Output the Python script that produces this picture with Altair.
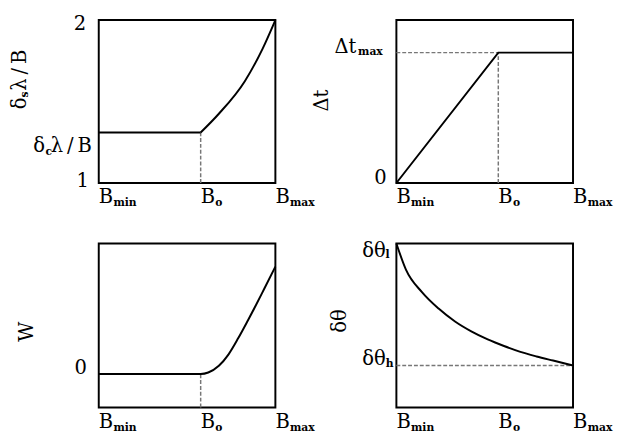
import altair as alt
import pandas as pd

FONT = "DejaVu Serif"

# ---------------- data ----------------
B_TICKS = [0.0, 0.577, 1.0]
B_SUBS = ["min", "o", "max"]
B_O = 0.577

# Panel 1 : delta_s lambda / B  (y from 1 to 2)
P1_FLAT_X = [0.0, 0.577]
P1_FLAT_Y = [1.31, 1.31]
P1_CURVE_X = [0.577, 0.680, 0.827, 0.928, 1.0]
P1_CURVE_Y = [1.31, 1.425, 1.625, 1.825, 2.0]
P1_YTICKS = [1.0, 1.31, 2.0]

# Panel 2 : Delta t
P2_X = [0.0, 0.577, 1.0]
P2_Y = [0.0, 0.8, 0.8]
P2_TMAX = 0.8

# Panel 3 : W
P3_X = [0.0, 0.577, 0.62, 0.68, 0.735, 0.79, 0.845, 0.891, 0.937, 1.0]
P3_Y = [0.204, 0.204, 0.213, 0.254, 0.324, 0.423, 0.532, 0.626, 0.724, 0.859]
P3_ZERO = 0.204

# Panel 4 : delta theta
P4_X = [0.0, 0.054, 0.146, 0.239, 0.332, 0.424, 0.517, 0.609, 0.702, 0.794, 0.887, 1.0]
P4_Y = [1.0, 0.841, 0.702, 0.603, 0.524, 0.464, 0.415, 0.375, 0.339, 0.311, 0.286, 0.256]
P4_LOW = 0.256

# ---------------- helpers ----------------
XS = alt.Scale(domain=[0, 1], nice=False, zero=False)
DASH_COLOR = "#777777"
THIN = "\u2009"


def enc_xy(ys, xfield="x", yfield="y"):
    return dict(x=alt.X(f"{xfield}:Q", scale=XS, axis=None),
                y=alt.Y(f"{yfield}:Q", scale=ys, axis=None))


def line(xv, yv, ys, interp="linear"):
    df = pd.DataFrame({"x": xv, "y": yv})
    return alt.Chart(df).mark_line(color="black", strokeWidth=2, interpolate=interp).encode(**enc_xy(ys))


def hdash(y, x1, x2, ys):
    df = pd.DataFrame({"x": [x1], "x2": [x2], "y": [y]})
    return alt.Chart(df).mark_rule(color=DASH_COLOR, strokeWidth=1.5, strokeDash=[4, 2]).encode(
        x=alt.X("x:Q", scale=XS, axis=None), x2="x2:Q", y=alt.Y("y:Q", scale=ys, axis=None))


def vdash(x, y1, y2, ys):
    df = pd.DataFrame({"x": [x], "y": [y1], "y2": [y2]})
    return alt.Chart(df).mark_rule(color=DASH_COLOR, strokeWidth=1.5, strokeDash=[4, 2]).encode(
        x=alt.X("x:Q", scale=XS, axis=None), y=alt.Y("y:Q", scale=ys, axis=None), y2="y2:Q")


def txt(x, y, s, ys, size=20, bold=False, align="left", dx=0, dy=0, angle=0):
    df = pd.DataFrame({"x": [x], "y": [y], "t": [s]})
    return alt.Chart(df).mark_text(
        font=FONT, fontSize=size, fontWeight="bold" if bold else "normal",
        align=align, baseline="alphabetic", dx=dx, dy=dy, angle=angle, color="black"
    ).encode(text="t:N", **enc_xy(ys))


def sub(x, y, s, ys, align="left", dx=0, dy=0, angle=0):
    return txt(x, y, s, ys, size=11, bold=True, align=align, dx=dx, dy=dy, angle=angle)


def xlabels(ymin, ys):
    layers = []
    for xv, s in zip(B_TICKS, B_SUBS):
        layers.append(txt(xv, ymin, "B", ys, dx=0, dy=21))
        layers.append(sub(xv, ymin, s, ys, dx=15, dy=24))
    return layers


LAM_B = "λ" + THIN + "/" + THIN + "B"

# ---------------- panel 1 ----------------
ys1 = alt.Scale(domain=[1, 2], nice=False, zero=False)
p1 = alt.layer(
    vdash(B_O, 1.0, P1_FLAT_Y[0], ys1),
    line(P1_FLAT_X, P1_FLAT_Y, ys1),
    line(P1_CURVE_X, P1_CURVE_Y, ys1, "monotone"),
    txt(0, P1_YTICKS[2], "2", ys1, align="right", dx=-13, dy=10),
    txt(0, P1_YTICKS[0], "1", ys1, align="right", dx=-10, dy=4),
    txt(0, P1_YTICKS[1], LAM_B, ys1, align="right", dx=-7, dy=20),
    sub(0, P1_YTICKS[1], "c", ys1, align="right", dx=-48, dy=23),
    txt(0, P1_YTICKS[1], "δ", ys1, align="right", dx=-55, dy=20),
    # rotated title  δ_s λ/B
    txt(0, 1.5, "δ", ys1, angle=270, dx=-8, dy=-75),
    sub(0, 1.5, "s", ys1, angle=270, dx=4, dy=-72),
    txt(0, 1.5, LAM_B, ys1, angle=270, dx=11, dy=-75),
    *xlabels(1.0, ys1),
).properties(width=181, height=167)

# ---------------- panel 2 ----------------
ys2 = alt.Scale(domain=[0, 1], nice=False, zero=False)
p2 = alt.layer(
    hdash(P2_TMAX, 0.0, B_O, ys2),
    vdash(B_O, 0.0, P2_TMAX, ys2),
    line(P2_X, P2_Y, ys2),
    txt(0, 0.0, "0", ys2, align="right", dx=-10, dy=1),
    sub(0, P2_TMAX, "max", ys2, align="right", dx=-14, dy=2),
    txt(0, P2_TMAX, "Δt", ys2, align="right", dx=-41, dy=0),
    txt(0, 0.5, "Δt", ys2, align="center", angle=270, dx=1, dy=-70),
    *xlabels(0.0, ys2),
).properties(width=181, height=167)

# ---------------- panel 3 ----------------
ys3 = alt.Scale(domain=[0, 1], nice=False, zero=False)
p3 = alt.layer(
    vdash(B_O, 0.0, P3_ZERO, ys3),
    line(P3_X, P3_Y, ys3, "monotone"),
    txt(0, P3_ZERO, "0", ys3, align="right", dx=-12, dy=0),
    txt(0, 0.5, "W", ys3, align="center", angle=270, dx=-6.5, dy=-67),
    *xlabels(0.0, ys3),
).properties(width=181, height=168)

# ---------------- panel 4 ----------------
ys4 = alt.Scale(domain=[0, 1], nice=False, zero=False)
p4 = alt.layer(
    hdash(P4_LOW, 0.0, 1.0, ys4),
    line(P4_X, P4_Y, ys4, "monotone"),
    txt(0, 1.0, "δθ", ys4, align="right", dx=-11, dy=14),
    sub(0, 1.0, "l", ys4, align="right", dx=-7, dy=15),
    txt(0, P4_LOW, "δθ", ys4, align="right", dx=-11, dy=0),
    sub(0, P4_LOW, "h", ys4, align="right", dx=-3, dy=2),
    txt(0, 0.5, "δθ", ys4, align="center", angle=270, dx=4.5, dy=-52),
    *xlabels(0.0, ys4),
).properties(width=181, height=168)

chart = alt.concat(
    p1, p2, p3, p4, columns=2,
    spacing=alt.RowColnumber(row=62, column=124),
    bounds="flush",
).properties(
    padding={"left": 0, "top": 0, "right": 0, "bottom": 0},
    background="white",
).configure_view(
    stroke="black", strokeWidth=2
)

chart.save("out.html", embed_options={"renderer": "svg", "actions": False})
